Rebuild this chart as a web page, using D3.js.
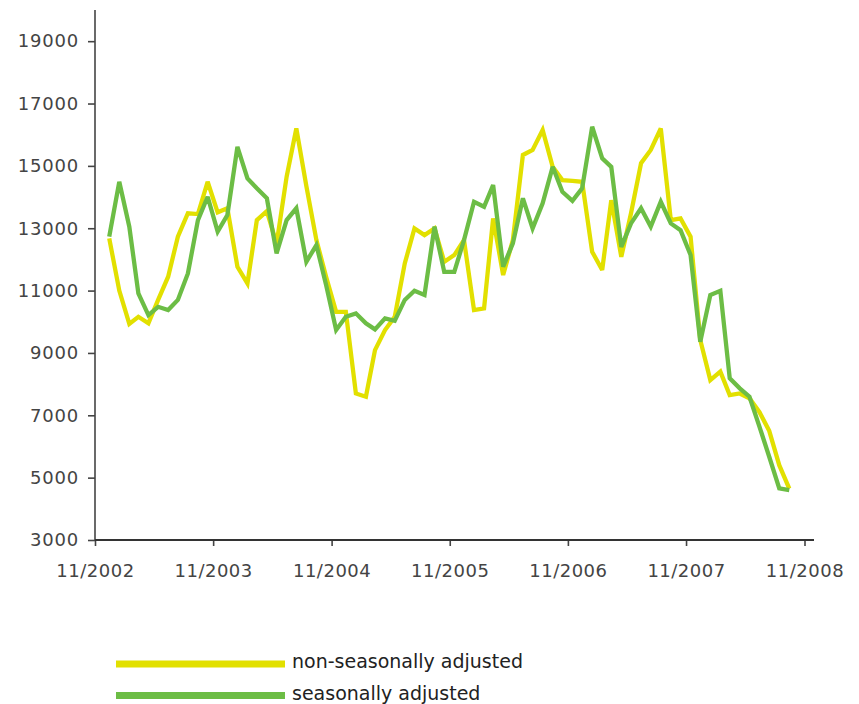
<!DOCTYPE html>
<html>
<head>
<meta charset="utf-8">
<script src="https://cdn.jsdelivr.net/npm/d3@7"></script>
<style>
  html, body { margin: 0; padding: 0; background: #fff; }
  svg { display: block; }
</style>
</head>
<body>
<svg id="chart" width="859" height="704"></svg>
<script>
// ---- data ----
const months = [
  "2002-12",
  "2003-01","2003-02","2003-03","2003-04","2003-05","2003-06","2003-07","2003-08","2003-09","2003-10","2003-11","2003-12",
  "2004-01","2004-02","2004-03","2004-04","2004-05","2004-06","2004-07","2004-08","2004-09","2004-10","2004-11","2004-12",
  "2005-01","2005-02","2005-03","2005-04","2005-05","2005-06","2005-07","2005-08","2005-09","2005-10","2005-11","2005-12",
  "2006-01","2006-02","2006-03","2006-04","2006-05","2006-06","2006-07","2006-08","2006-09","2006-10","2006-11","2006-12",
  "2007-01","2007-02","2007-03","2007-04","2007-05","2007-06","2007-07","2007-08","2007-09","2007-10","2007-11","2007-12",
  "2008-01","2008-02","2008-03","2008-04","2008-05","2008-06","2008-07","2008-08","2008-09"
];
const nonSeasonallyAdjusted = [
  12675, 11000, 9930, 10160, 9950, 10700, 11445, 12730, 13480, 13455,
  14490, 13510, 13640, 11765, 11230, 13260, 13550, 12500, 14650, 16200,
  14350, 12620, 11445, 10320, 10320, 7700, 7595, 9090, 9735, 10160,
  11870, 12995, 12780, 12995, 11925, 12140, 12620, 10375, 10430, 13315,
  11500, 12620, 15350, 15510, 16150, 14970, 14545, 14520, 14490, 12245,
  11660, 13900, 12085, 13480, 15085, 15510, 16200, 13260, 13315, 12730,
  9415, 8130, 8400, 7650, 7700, 7545, 7100, 6500, 5400, 4650
];
const seasonallyAdjusted = [
  12730, 14490, 13050, 10910, 10215, 10480, 10375, 10700, 11550, 13260,
  14010, 12890, 13420, 15610, 14600, 14280, 13960, 12190, 13260, 13640,
  11925, 12460, 11180, 9735, 10160, 10270, 9950, 9757, 10110, 10030,
  10700, 10995, 10860, 13050, 11600, 11600, 12620, 13850, 13690, 14385,
  11765, 12515, 13960, 12995, 13800, 14970, 14170, 13880, 14280, 16255,
  15240, 14970, 12400, 13155, 13640, 13050, 13850, 13155, 12940, 12140,
  9360, 10860, 10995, 8185, 7865, 7595, 6630, 5670, 4655, 4600
];
const yTicks = [3000, 5000, 7000, 9000, 11000, 13000, 15000, 17000, 19000];
const xTickLabels = ["11/2002","11/2003","11/2004","11/2005","11/2006","11/2007","11/2008"];
const seriesNames = ["non-seasonally adjusted", "seasonally adjusted"];

// ---- setup ----
const svg = d3.select("#chart");
const colors = ["#e2e000", "#6cbd45"];
const parseMonth = d3.timeParse("%Y-%m");
const parseTick = d3.timeParse("%m/%Y");
const dates = months.map(m => { const d = parseMonth(m); d.setDate(15); return d; });
const tickDates = xTickLabels.map(parseTick);

const x = d3.scaleTime()
  .domain([tickDates[0], tickDates[tickDates.length - 1]])
  .range([95, 804.5]);
const y = d3.scaleLinear().domain([3000, 20000]).range([540, 10]);

const font = "'DejaVu Sans', Verdana, sans-serif";

// y axis
const yAxis = svg.append("g")
  .attr("transform", "translate(95,0)")
  .call(d3.axisLeft(y).tickValues(yTicks).tickSize(7).tickPadding(9).tickFormat(d3.format("d")));
yAxis.select(".domain").remove();
yAxis.append("line").attr("x1", 0).attr("x2", 0).attr("y1", 10).attr("y2", 540)
  .attr("stroke", "#444").attr("stroke-width", 1.6);
yAxis.selectAll(".tick line").attr("stroke", "#444").attr("stroke-width", 1.6);
yAxis.selectAll(".tick text")
  .attr("fill", "#444").style("font-family", font).style("font-size", "18px")
  .style("letter-spacing", "0.8px");

// x axis
const xAxis = svg.append("g")
  .attr("transform", "translate(0,540)")
  .call(d3.axisBottom(x).tickValues(tickDates).tickSize(6).tickPadding(18)
    .tickFormat((d, i) => xTickLabels[i]));
xAxis.select(".domain").remove();
xAxis.append("line").attr("x1", 95).attr("x2", 814).attr("y1", 0).attr("y2", 0)
  .attr("stroke", "#333").attr("stroke-width", 2.2);
xAxis.selectAll(".tick line").attr("stroke", "#444").attr("stroke-width", 1.6);
xAxis.selectAll(".tick text")
  .attr("fill", "#444").style("font-family", font).style("font-size", "18px")
  .style("letter-spacing", "0.5px");

// lines
const line = d3.line().x((d, i) => x(dates[i])).y(d => y(d)).curve(d3.curveLinear);
[nonSeasonallyAdjusted, seasonallyAdjusted].forEach((s, k) => {
  svg.append("path").datum(s)
    .attr("d", line)
    .attr("fill", "none")
    .attr("stroke", colors[k])
    .attr("stroke-width", 4.3)
    .attr("stroke-linejoin", "miter")
    .attr("stroke-miterlimit", 3);
});

// legend
const legend = svg.append("g");
seriesNames.forEach((name, k) => {
  const cy = 664 + k * 31.5;
  legend.append("rect").attr("x", 116).attr("y", cy - 3.5).attr("width", 169).attr("height", 7)
    .attr("fill", colors[k]);
  legend.append("text").attr("x", 292).attr("y", cy + 4)
    .attr("fill", "#222").style("font-family", font).style("font-size", "19px")
    .text(name);
});
</script>
</body>
</html>
